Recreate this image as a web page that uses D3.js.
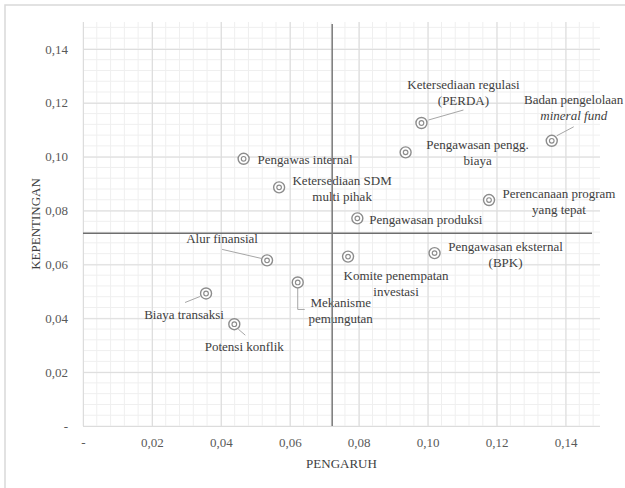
<!DOCTYPE html>
<html lang="en">
<head>
<meta charset="UTF-8">
<title>Pengaruh vs Kepentingan</title>
<script src="https://d3js.org/d3.v7.min.js"></script>
<style>
  body { margin: 0; background: #fff; }
  #chart, #chart text, #chart tspan { font-family: "Liberation Serif", "Times New Roman", Times, "DejaVu Serif", serif !important; }
</style>
</head>
<body>
<svg id="chart" width="625" height="488"></svg>
<script>
// data
const labels = [
  ["Pengawas internal"],
  ["Ketersediaan SDM", "multi pihak"],
  ["Ketersediaan regulasi", "(PERDA)"],
  ["Badan pengelolaan", "mineral fund"],
  ["Pengawasan pengg.", "biaya"],
  ["Perencanaan program", "yang tepat"],
  ["Pengawasan produksi"],
  ["Pengawasan eksternal", "(BPK)"],
  ["Komite penempatan", "investasi"],
  ["Alur finansial"],
  ["Mekanisme", "pemungutan"],
  ["Biaya transaksi"],
  ["Potensi konflik"]
];
const pengaruh =    [0.0466, 0.0569, 0.0982, 0.1360, 0.0936, 0.1178, 0.0796, 0.1020, 0.0769, 0.0534, 0.0623, 0.0357, 0.0439];
const kepentingan = [0.0992, 0.0886, 0.1125, 0.1059, 0.1016, 0.0839, 0.0771, 0.0642, 0.0629, 0.0615, 0.0533, 0.0492, 0.0378];
const xTicks = [0, 0.02, 0.04, 0.06, 0.08, 0.10, 0.12, 0.14];
const yTicks = [0, 0.02, 0.04, 0.06, 0.08, 0.10, 0.12, 0.14];
const xMid = 0.0723;   // quadrant split on x
const yMid = 0.0716;   // quadrant split on y

// label placement (pixels, relative to marker)
const labelLayout = [
  {dx: 14, dy: 5, anchor: "start"},
  {dx: 63, dy: -2, anchor: "middle"},
  {dx: 42, dy: -34, anchor: "middle", leader: [[42, -13], [7, -3]]},
  {dx: 22, dy: -37, anchor: "middle", italic2: true, leader: [[22, -14], [5, -5]]},
  {dx: 72, dy: -3, anchor: "middle"},
  {dx: 70, dy: -2, anchor: "middle"},
  {dx: 12, dy: 6, anchor: "start"},
  {dx: 71, dy: -2, anchor: "middle"},
  {dx: 48, dy: 23, anchor: "middle"},
  {dx: -45, dy: -17, anchor: "middle", leader: [[-45, -11], [-6, -2]]},
  {dx: 43, dy: 25, anchor: "middle", leader: [[0, 6], [0, 27], [7, 27]]},
  {dx: -22, dy: 26, anchor: "middle", leader: [[-21, 9], [-6, 3]]},
  {dx: 10, dy: 27, anchor: "middle", leader: [[4, 5], [11, 11]]}
];

const svg = d3.select("#chart");
const W = 625, H = 488;
const margin = {top: 22, right: 25, bottom: 62, left: 83};
const innerW = W - margin.left - margin.right;
const innerH = H - margin.top - margin.bottom;

// frame (only top and left edges visible)
svg.append("path")
  .attr("d", `M5,${H} L5,5 L${W},5`)
  .attr("fill", "none").attr("stroke", "#d9d9d9").attr("stroke-width", 1.5);

const x = d3.scaleLinear().domain([0, 0.15]).range([0, innerW]);
const y = d3.scaleLinear().domain([0, 0.15]).range([innerH, 0]);
const fmt = v => v === 0 ? "-" : d3.format(".2f")(v).replace(".", ",");

const g = svg.append("g").attr("transform", `translate(${margin.left},${margin.top})`);

// minor grid
const minor = d3.range(0, 0.1501, 0.004);
g.append("g").selectAll("line.mx").data(minor).join("line")
  .attr("x1", d => x(d)).attr("x2", d => x(d)).attr("y1", 0).attr("y2", innerH)
  .attr("stroke", "#efefef").attr("stroke-width", 1);
g.append("g").selectAll("line.my").data(minor).join("line")
  .attr("y1", d => y(d)).attr("y2", d => y(d)).attr("x1", 0).attr("x2", innerW)
  .attr("stroke", "#efefef").attr("stroke-width", 1);

// major grid via axes
g.append("g").attr("transform", `translate(0,${innerH})`)
  .call(d3.axisBottom(x).tickValues(xTicks).tickSize(-innerH).tickFormat(fmt).tickPadding(12))
  .call(a => a.select(".domain").remove())
  .call(a => a.selectAll("line").attr("stroke", "#dcdcdc"))
  .call(a => a.selectAll("text").attr("fill", "#595959").style("font-size", "13px"));
g.append("g")
  .call(d3.axisLeft(y).tickValues(yTicks).tickSize(-innerW).tickFormat(fmt).tickPadding(15))
  .call(a => a.select(".domain").remove())
  .call(a => a.selectAll("line").attr("stroke", "#dcdcdc"))
  .call(a => a.selectAll("text").attr("fill", "#595959").style("font-size", "13px"));

// axis titles
svg.append("text").attr("x", margin.left + innerW / 2).attr("y", 468)
  .attr("text-anchor", "middle").attr("fill", "#404040").style("font-size", "13px")
  .text("PENGARUH");
svg.append("text").attr("transform", `translate(40,${margin.top + innerH / 2}) rotate(-90)`)
  .attr("text-anchor", "middle").attr("fill", "#404040").style("font-size", "13px")
  .text("KEPENTINGAN");

const pts = labels.map((l, i) => ({lines: l, px: x(pengaruh[i]), py: y(kepentingan[i]), lay: labelLayout[i]}));

// leader lines
g.append("g").selectAll("path").data(pts.filter(p => p.lay.leader)).join("path")
  .attr("d", p => d3.line()(p.lay.leader.map(([a, b]) => [p.px + a, p.py + b])))
  .attr("fill", "none").attr("stroke", "#a6a6a6").attr("stroke-width", 1);

// labels
const lab = g.append("g").selectAll("text").data(pts).join("text")
  .attr("x", p => p.px + p.lay.dx).attr("y", p => p.py + p.lay.dy)
  .attr("text-anchor", p => p.lay.anchor).attr("fill", "#404040").style("font-size", "13px");
lab.selectAll("tspan").data(p => p.lines.map((t, k) => ({t, k, p}))).join("tspan")
  .attr("x", d => d.p.px + d.p.lay.dx).attr("dy", d => d.k === 0 ? 0 : 16)
  .style("font-style", d => d.k === 1 && d.p.lay.italic2 ? "italic" : null)
  .text(d => d.t);

// quadrant lines
g.append("line").attr("x1", 0).attr("x2", innerW - 8).attr("y1", y(yMid)).attr("y2", y(yMid))
  .attr("stroke", "#6e6e6e").attr("stroke-width", 1.5);
g.append("line").attr("x1", x(xMid)).attr("x2", x(xMid)).attr("y1", 2).attr("y2", innerH)
  .attr("stroke", "#7a7a7a").attr("stroke-width", 1.5);

// markers
const mk = g.append("g").selectAll("g").data(pts).join("g")
  .attr("transform", p => `translate(${p.px},${p.py})`);
mk.append("circle").attr("r", 5.5).attr("fill", "#fff").attr("stroke", "#8c8c8c").attr("stroke-width", 1.4);
mk.append("circle").attr("r", 2.3).attr("fill", "none").attr("stroke", "#8c8c8c").attr("stroke-width", 1.2);
</script>
</body>
</html>
